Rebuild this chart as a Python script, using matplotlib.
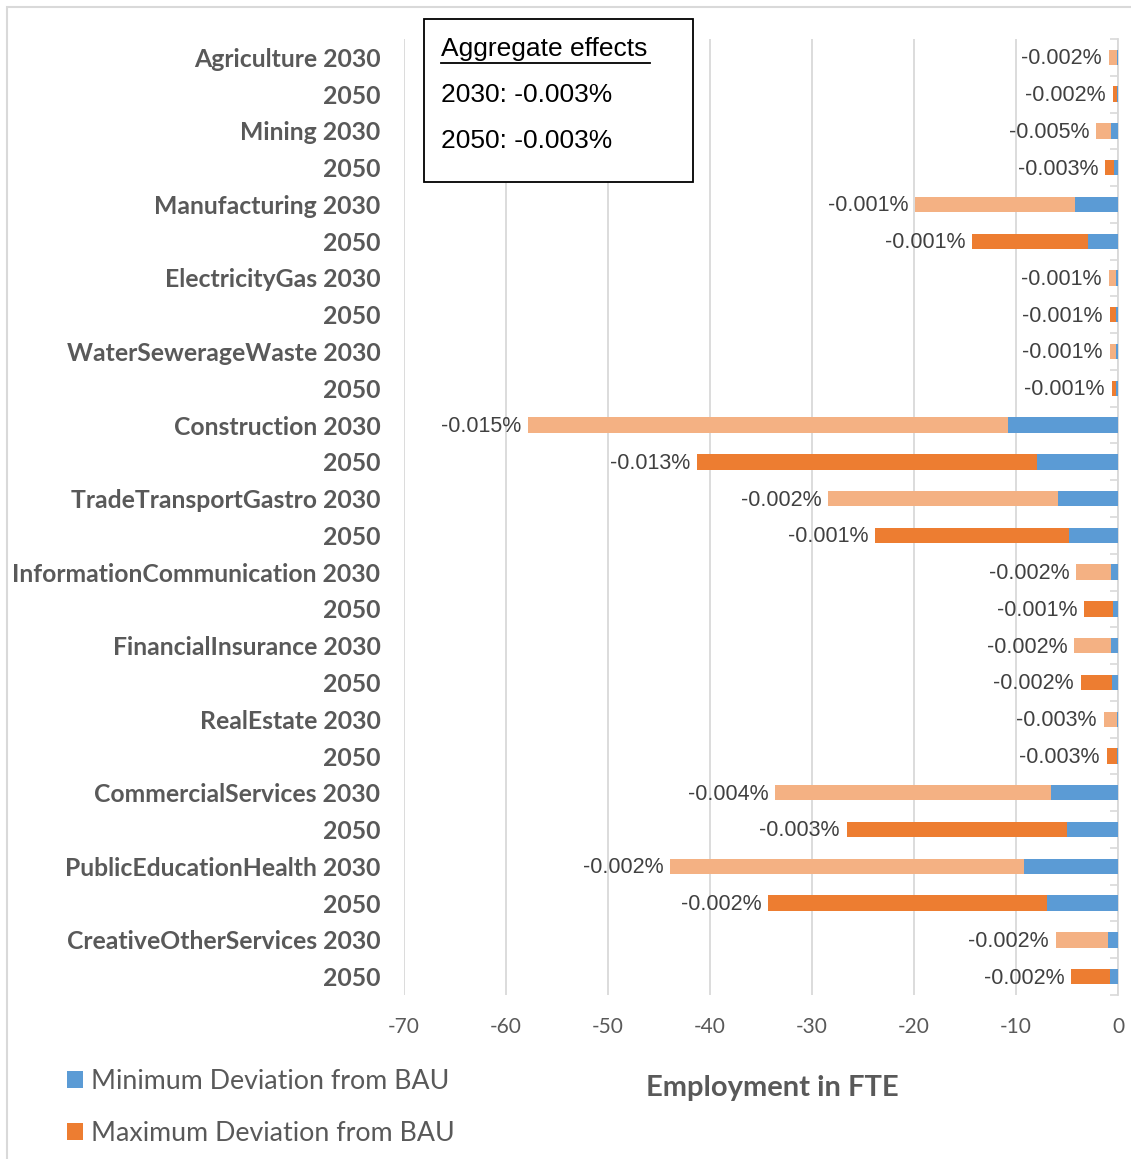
import matplotlib
matplotlib.use("Agg")
import matplotlib.pyplot as plt
from matplotlib.patches import Patch, Rectangle

# ---- data ----
row_labels = [
    "Agriculture 2030", "2050",
    "Mining 2030", "2050",
    "Manufacturing 2030", "2050",
    "ElectricityGas 2030", "2050",
    "WaterSewerageWaste 2030", "2050",
    "Construction 2030", "2050",
    "TradeTransportGastro 2030", "2050",
    "InformationCommunication 2030", "2050",
    "FinancialInsurance 2030", "2050",
    "RealEstate 2030", "2050",
    "CommercialServices 2030", "2050",
    "PublicEducationHealth 2030", "2050",
    "CreativeOtherServices 2030", "2050",
]
years = [2030, 2050] * 13
min_dev = [-0.1, -0.1, -0.64, -0.41, -4.2, -2.9, -0.15, -0.2, -0.15, -0.15,
           -10.8, -7.9, -5.9, -4.8, -0.64, -0.46, -0.73, -0.6, -0.14, -0.14,
           -6.6, -5.0, -9.2, -7.0, -1.0, -0.78]
max_dev = [-0.9, -0.5, -2.15, -1.23, -19.9, -14.3, -0.9, -0.8, -0.8, -0.6,
           -57.8, -41.3, -28.4, -23.8, -4.1, -3.3, -4.3, -3.65, -1.4, -1.1,
           -33.6, -26.6, -43.9, -34.3, -6.1, -4.6]
pct_labels = ["-0.002%", "-0.002%", "-0.005%", "-0.003%", "-0.001%", "-0.001%",
              "-0.001%", "-0.001%", "-0.001%", "-0.001%", "-0.015%", "-0.013%",
              "-0.002%", "-0.001%", "-0.002%", "-0.001%", "-0.002%", "-0.002%",
              "-0.003%", "-0.003%", "-0.004%", "-0.003%", "-0.002%", "-0.002%",
              "-0.002%", "-0.002%"]
x_ticks = [-70, -60, -50, -40, -30, -20, -10, 0]
aggregate_lines = ["2030: -0.003%", "2050: -0.003%"]

BLUE = "#5B9BD5"
DARK_OR = "#ED7D31"
LIGHT_OR = "#F4B183"
GREY_TXT = "#595959"
GRID = "#D9D9D9"

W, H = 1131, 1159
fig = plt.figure(figsize=(W / 100, H / 100), dpi=100)
ax = fig.add_axes([404 / W, 1 - 995 / H, (1118 - 404) / W, (995 - 39) / H])

n = len(row_labels)
ypos = list(range(n))
ext_colors = [LIGHT_OR if y == 2030 else DARK_OR for y in years]
widths = [mx - mn for mn, mx in zip(min_dev, max_dev)]

ax.barh(ypos, min_dev, height=0.42, color=BLUE, zorder=3)
ax.barh(ypos, widths, left=min_dev, height=0.42, color=ext_colors, zorder=3)

for yi, mx, lab in zip(ypos, max_dev, pct_labels):
    ax.annotate(lab, xy=(mx, yi), xytext=(-5, -1.0), textcoords="offset points",
                ha="right", va="center", fontsize=15.5, color="#404040",
                family="Liberation Sans", zorder=4)

ax.set_xlim(-70, 0)
ax.set_ylim(n - 0.5, -0.5)
ax.set_xticks(x_ticks)
ax.set_xticklabels([str(t) for t in x_ticks], fontsize=15, color=GREY_TXT, family="Lato")
ax.set_yticks(ypos)
ax.set_yticklabels(row_labels, fontsize=17.8, color=GREY_TXT, family="Lato", fontweight="bold")
ax.set_yticks([i - 0.5 for i in range(n + 1)], minor=True)
for lbl in ax.get_yticklabels():
    lbl.set_y(lbl.get_position()[1])

ax.tick_params(axis="x", which="both", length=0, pad=15.5)
ax.tick_params(axis="y", which="major", left=False, right=False, labelleft=True, pad=13.5)
ax.tick_params(axis="y", which="minor", left=False, right=True, direction="in",
               length=6, color=GRID, width=1.2)

ax.grid(axis="x", color=GRID, linewidth=1.3, zorder=0)
for s in ["top", "bottom", "left"]:
    ax.spines[s].set_visible(False)
ax.spines["right"].set_color(GRID)
ax.spines["right"].set_linewidth(1.3)

# outer frame (partially visible)
fig.patches.append(Rectangle((7 / W, -0.01), 1.2, 1 - 7 / H + 0.01, transform=fig.transFigure,
                             fill=False, edgecolor="#D9D9D9", linewidth=1.5))

# aggregate effects box
fig.patches.append(Rectangle((424 / W, 1 - 182 / H), (693 - 424) / W, (182 - 19) / H,
                             transform=fig.transFigure, fill=True, facecolor="white",
                             edgecolor="black", linewidth=1.3, zorder=5))
fig.text(441 / W, 1 - 49 / H, "Aggregate effects", fontsize=19, family="Liberation Sans",
         va="center", ha="left", color="black", zorder=6)
fig.add_artist(plt.Line2D([441 / W, 650 / W], [1 - 63 / H, 1 - 63 / H], color="black",
                          linewidth=1.3, transform=fig.transFigure, zorder=6))
for i, line in enumerate(aggregate_lines):
    fig.text(441 / W, 1 - (95 + 46 * i) / H, line, fontsize=19, family="Liberation Sans",
             va="center", ha="left", color="black", zorder=6)

# axis title
fig.text(772 / W, 1 - 1088 / H, "Employment in FTE", fontsize=21, fontweight="bold",
         family="Lato", color=GREY_TXT, ha="center", va="center")

# legend
handles = [Patch(facecolor=BLUE, edgecolor="none"), Patch(facecolor=DARK_OR, edgecolor="none")]
leg = fig.legend(handles, ["Minimum Deviation from BAU", "Maximum Deviation from BAU"],
                 loc="upper left", bbox_to_anchor=(67 / W, 1 - 1069 / H),
                 frameon=False, prop={"family": "Lato", "size": 19.3},
                 handlelength=0.6, handleheight=0.6, handletextpad=0.3,
                 labelspacing=1.0, borderpad=0, borderaxespad=0)
for t in leg.get_texts():
    t.set_color(GREY_TXT)

fig.savefig("out.png", dpi=100)
